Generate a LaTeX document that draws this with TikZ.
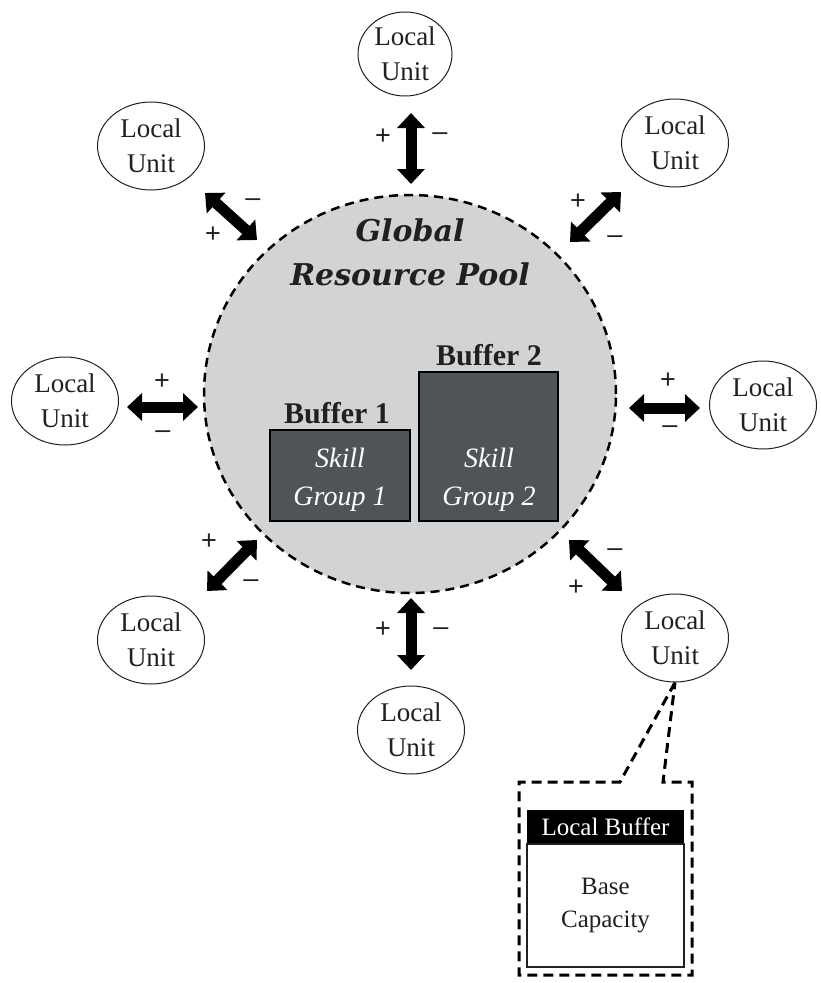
\documentclass[tikz,border=0pt]{standalone}
\usepackage{fontspec}
\setmainfont{Liberation Serif}
\newfontfamily\titlefont{DejaVu Serif}
\newfontfamily\signfont{Liberation Sans}
\usetikzlibrary{arrows.meta,shapes.geometric}
\definecolor{poolgray}{RGB}{209,211,212}
\definecolor{skillgray}{RGB}{80,84,88}
\definecolor{ink}{RGB}{35,31,32}

\begin{document}
\begin{tikzpicture}[x=1pt,y=-1pt,
  unit/.style={draw=ink, line width=1pt, ellipse, minimum width=107pt, minimum height=88pt,
    inner sep=0pt, align=center, text=ink, font=\fontsize{27}{35}\selectfont},
  biarrow/.style={line width=11pt,
    {Triangle[width=27pt,length=15pt]}-{Triangle[width=27pt,length=15pt]}},
  sign/.style={inner sep=0pt, text=ink, font=\signfont\fontsize{27}{27}\selectfont},
  skillbox/.style={draw=black, line width=2.5pt, fill=skillgray, inner sep=0pt},
  skilltext/.style={align=center, text=white, font=\itshape\fontsize{28}{38}\selectfont},
  buflabel/.style={inner sep=0pt, text=ink, font=\bfseries\fontsize{30}{30}\selectfont},
  dashline/.style={line width=3pt, dash pattern=on 10pt off 6pt},
]
\useasboundingbox (0,0) rectangle (820,983);

% central pool
\node[draw=black, line width=2.5pt, dash pattern=on 9pt off 6pt, fill=poolgray,
  ellipse, minimum width=412pt, minimum height=398pt, inner sep=0pt] (pool) at (410,394) {};
\node[align=center, text=ink, font=\titlefont\bfseries\itshape\fontsize{30}{44}\selectfont]
  (title) at (410,252) {Global\\Resource Pool};

% skill groups
\node[skillbox, minimum width=140pt, minimum height=91pt] (sg1) at (340,475.5) {};
\node[skillbox, minimum width=139pt, minimum height=149pt] (sg2) at (488.5,446.5) {};
\node[skilltext] (sg1t) at (340,480) {Skill\\Group 1};
\node[skilltext] (sg2t) at (489,480) {Skill\\Group 2};
\node[buflabel, anchor=base] (b1) at (337,423) {Buffer 1};
\node[buflabel, anchor=base] (b2) at (489,365) {Buffer 2};

% local units
\node[unit, minimum width=94pt, minimum height=84pt] (uN) at (405,54) {Local\\Unit};
\node[unit] (uNE) at (675,143) {Local\\Unit};
\node[unit] (uE)  at (763,405) {Local\\Unit};
\node[unit] (uSE) at (675,638) {Local\\Unit};
\node[unit] (uS)  at (411,730) {Local\\Unit};
\node[unit] (uSW) at (151,640) {Local\\Unit};
\node[unit] (uW)  at (65,401)  {Local\\Unit};
\node[unit] (uNW) at (151,146) {Local\\Unit};

% exchange arrows
\coordinate (aN1) at (411,113);  \coordinate (aN2) at (411,184);
\coordinate (aS1) at (411,598);  \coordinate (aS2) at (411,670);
\coordinate (aW1) at (127,407);  \coordinate (aW2) at (198,407);
\coordinate (aE1) at (629,408);  \coordinate (aE2) at (700,408);
\coordinate (aNW1) at (205,193); \coordinate (aNW2) at (257,240);
\coordinate (aNE1) at (621,192); \coordinate (aNE2) at (570,242);
\coordinate (aSW1) at (257,540); \coordinate (aSW2) at (207,591);
\coordinate (aSE1) at (569,540); \coordinate (aSE2) at (622,591);
\foreach \d in {N,S,W,E,NW,NE,SW,SE}
  \draw[biarrow] (a\d1) -- (a\d2);

% plus / minus signs
\node[sign] (pN) at (383,137) {+};  \node[sign] (mN) at (440,137) {–};
\node[sign] (pS) at (383,630) {+};  \node[sign] (mS) at (441,632) {–};
\node[sign] (pW) at (162,382) {+};  \node[sign] (mW) at (163,435) {–};
\node[sign] (pE) at (668,381) {+};  \node[sign] (mE) at (670,430) {–};
\node[sign] (mNW) at (253,203) {–}; \node[sign] (pNW) at (213,235) {+};
\node[sign] (pNE) at (578,202) {+}; \node[sign] (mNE) at (615,240) {–};
\node[sign] (pSW) at (209,542) {+}; \node[sign] (mSW) at (251,584) {–};
\node[sign] (mSE) at (615,553) {–}; \node[sign] (pSE) at (576,588) {+};

% close-up of one local unit
\coordinate (c1) at (620,782); \coordinate (c2) at (519,782);
\coordinate (c3) at (519,975); \coordinate (c4) at (692,975);
\coordinate (c5) at (692,782); \coordinate (c6) at (663,782);
\draw[dashline] (uSE.south) -- (c1) -- (c2) -- (c3) -- (c4) -- (c5) -- (c6) -- (uSE.south);

\node[fill=black, minimum width=157pt, minimum height=34pt, inner sep=0pt,
  text=white, font=\fontsize{25}{25}\selectfont] (lbhead) at (605.5,827) {Local Buffer};
\node[draw=ink, line width=1.2pt, minimum width=157pt, minimum height=123pt, inner sep=0pt,
  align=center, text=ink, font=\fontsize{25}{33}\selectfont] (lbbody) at (605.5,905.5) {Base\\Capacity};
\end{tikzpicture}
\end{document}
